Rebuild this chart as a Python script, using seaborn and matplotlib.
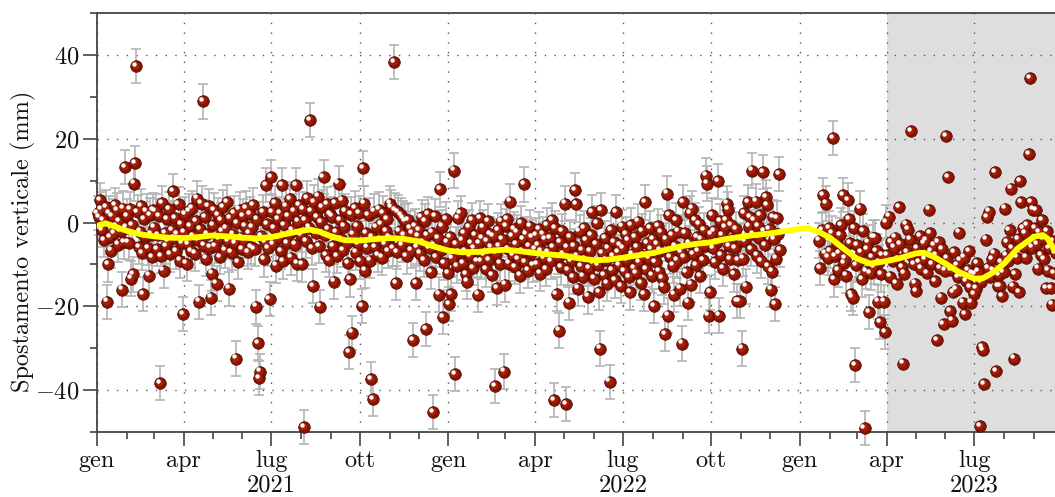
import numpy as np
import pandas as pd
import matplotlib
matplotlib.use("Agg")
import matplotlib.pyplot as plt
import matplotlib.dates as mdates
import matplotlib.transforms as mtransforms
from matplotlib.ticker import MultipleLocator, FuncFormatter
import seaborn as sns

# ---------------------------------------------------------------------------
# Spostamento verticale giornaliero (mm), un elenco per mese
# ---------------------------------------------------------------------------
gen_2021 = [2.3, 1.2, 5.4, 3.1, -1.8, 0.6, -4.2, 3.6, -18.9, -10.0, 2.2, -3.5, -6.7, 1.4, -2.6, 4.1,
            -0.8, 2.9, -5.3, 0.3, -2.1, -16.0, 3.3, -4.6, 13.2, -1.2]
feb_2021 = [1.5, -4.8, 3.2, -13.4, -0.6, -12.4, 9.3, 14.1, 37.3, 2.4, -5.9, -2.2, 4.0, -7.3, -17.0, 0.9,
            -3.4, 2.6, -6.1, -12.7, 1.8, -2.9, -8.2, 3.0]
mar_2021 = [-1.2, 2.8, -6.4, -3.1, 1.5, -38.3, -8.0, 4.6, -11.5, -2.5, -5.7, 0.8, -4.4, 3.2, -7.6, -1.9,
            7.4, -3.8, 1.1, -6.9, -2.7, 4.3, -9.1, -0.4, -4.9, -21.8]
apr_2021 = [-2.4, 1.9, -9.8, -5.1, 2.7, -0.9, -6.8, 3.5, -3.3, -7.4, 0.4, 5.7, -4.2, -18.9, -1.6, 4.5,
            28.9, -5.5, 1.2, -8.6, -2.8, 3.9, -6.0, -17.9, -12.2]
mag_2021 = [-0.7, 2.9, -5.6, -14.6, 1.8, -3.9, -8.3, 0.5, -2.2, 3.6, -6.7, -1.4, 4.8, -4.5, -15.8, 1.0,
            -7.2, -2.9, 2.3, -5.0, -32.5, -0.2, -9.4, 3.1, -3.6, -6.3]
giu_2021 = [1.6, -4.3, -0.8, 3.4, -7.1, -2.6, 2.0, -5.8, -1.1, 4.2, -6.4, -20.1, 0.7, -28.7, -37.1, -35.6,
            -3.2, 2.5, -8.8, -4.7, 8.9, -0.3, -6.2, -18.2, 10.8]
lug_2021 = [2.4, -5.2, -1.3, 4.7, -10.3, 0.9, -3.7, 2.1, -6.9, 8.9, -9.3, -0.6, 3.8, -4.9, 1.5, -2.8,
            5.6, -8.4, -1.9, 2.7, -5.3, 8.9, -9.8, 0.2, 4.1, -3.0]
ago_2021 = [-10.0, 3.2, -48.8, 0.6, -4.4, 5.9, -1.2, 24.4, 2.8, -6.1, -15.1, 4.9, -2.5, 1.3, 6.2, -5.6,
            -20.1, 0.1, 3.7, 10.8, -3.1, -7.8, 4.4, -1.7, -8.9, 2.0]
set_2021 = [1.4, -5.7, -14.1, 4.6, -2.3, -8.0, 9.3, 0.5, -3.9, 5.2, -6.6, -1.0, 2.8, -4.8, -9.6, -30.9,
            -13.6, 1.9, -26.3, -2.7, 3.4, -7.2, -0.8, -5.1, 2.2]
ott_2021 = [-9.3, -19.9, 12.9, 4.5, -11.5, -2.6, -6.0, 1.8, -9.1, -37.3, -3.4, -42.1, 2.6, -5.9, -1.1,
            -7.7, 3.1, -4.0, -0.3, -8.4, 2.2, -5.2, -2.0, 0.8, -6.8, -3.6]
nov_2021 = [4.5, 3.7, -6.2, 38.3, 2.9, -14.4, -7.0, 2.4, -2.1, 1.8, -5.4, 1.1, -3.0, 0.4, -8.1, 0.6,
            -4.4, -1.3, -6.7, -2.5, -28.0, -0.9, -14.4, -5.8, -3.2]
dic_2021 = [-1.8, -7.4, 1.2, -4.6, -9.0, 0.3, -25.4, -3.1, 2.0, -6.2, -11.8, -2.4, -45.2, -5.5, 1.6,
            -8.3, -3.7, -17.2, 7.9, -6.6, -1.0, -22.5, -9.6, 0.9, -4.8, -12.0]
gen_2022 = [-19.4, -3.5, -17.0, -8.6, 12.4, -36.1, -5.2, -10.4, 1.0, -7.1, 2.2, -4.3, -9.7, -2.5, -6.8,
            -12.3, -14.1, -1.1, -8.0, -4.9, 0.6, -10.9, -6.2, -3.0, -9.2, -17.2]
feb_2022 = [-5.0, 1.0, -9.3, -3.8, -1.2, -7.7, -11.2, -4.4, 0.4, -8.9, -2.8, -6.0, -12.6, -3.3, -39.0,
            -7.4, -15.6, -1.9, -5.6, -9.8, 0.2, -4.1, -35.6, -14.8]
mar_2022 = [-0.9, 0.8, -6.3, -9.8, 5.0, -3.2, -7.8, -1.5, -10.6, -5.1, -2.4, -8.7, -12.7, -0.2, -6.9,
            -4.0, 9.1, -9.4, -2.9, -11.5, -5.7, -1.0, -7.3, -3.6, -10.1, -6.4]
apr_2022 = [-3.1, -9.9, -5.4, -1.6, -12.2, -6.8, -2.9, -8.5, -4.0, -11.1, -0.7, -7.2, -3.8, -9.3, 0.5,
            -5.9, -42.3, -1.3, -17.0, -8.2, -25.8, -4.6, -10.7, -2.0, -7.6]
mag_2022 = [4.5, -43.3, -6.0, -11.4, -19.1, -3.4, -9.2, -13.0, -5.7, 7.7, 4.3, -8.1, -15.8, -2.2, -10.5,
            -6.6, -12.9, -1.4, -8.8, -4.2, -17.7, -11.0, -6.9, -3.0, 2.4, -9.6]
giu_2022 = [-13.4, -5.1, -0.2, -10.2, -16.7, -30.1, 2.9, -7.3, -12.5, -3.8, -9.0, -14.6, -6.2, -38.0,
            -1.9, -11.3, -8.0, -4.6, -13.8, 2.4, -7.0, -10.1, -5.4, -15.2, -1.0]
lug_2022 = [-6.1, -11.6, -2.8, -8.9, -4.3, -13.1, -16.7, -0.6, -7.5, -10.8, -3.5, -12.0, -5.8, 0.2, -9.4,
            -14.4, -2.1, -7.9, -17.0, 4.8, -11.2, -4.9, -8.6, -1.3, -6.4, -12.7]
ago_2022 = [-3.9, -19.9, -9.4, -5.3, -0.8, -11.7, -6.7, -2.4, -13.2, -15.3, -26.6, -4.1, 6.9, -22.2, 1.7,
            -8.2, -3.0, -10.3, -17.2, -5.6, 0.6, -9.1, -2.2, -15.8, -7.0, -28.9]
set_2022 = [4.8, -8.3, -2.6, -11.9, -19.1, -5.0, 2.2, -14.8, 3.3, -7.6, 0.5, -10.2, -3.4, -6.8, -0.4,
            -12.8, -4.1, -8.9, -1.8, -5.5, 11.2, 9.3, -22.2, -16.7, -2.9]
ott_2022 = [1.7, -6.2, -2.0, -9.4, -4.7, 9.8, -22.2, 0.3, -7.8, -3.1, -11.0, -1.2, 0.5, 4.5, 3.1, -5.6,
            -8.7, -0.7, -3.9, -12.4, -6.1, -1.6, -18.7, -9.0, -18.7, -4.3]
nov_2022 = [-30.1, -8.6, 2.2, -4.5, -15.3, 4.8, -1.0, 1.2, -6.3, 12.4, -2.7, 0.5, 5.0, -7.9, -0.9, -3.6,
            1.8, -9.2, 12.0, -2.1, -5.4, 6.0, 4.1, -10.5, -1.5]
dic_2022 = [-16.0, -11.7, 1.2, -4.0, -19.4, -8.6, 1.0, -2.8, 11.5, -6.5]
gen_2023 = [-4.3, -10.8, -1.9, 6.5, -7.4, 4.5, -8.4, -1.4]
feb_2023 = [-6.8, -2.5, 20.1, -13.6, -8.0, -4.9, -11.3, -7.4, -3.0, -0.7, 6.5, -9.6, -8.6, -12.7, 5.3,
            0.9, -5.0, -17.0, -17.9, -1.4, -34.0, -10.2]
mar_2023 = [-5.4, -9.1, 3.3, -7.2, -13.6, -2.0, -49.0, -11.7, -6.3, -4.8, -21.3, -12.0, -8.4, -3.6,
            -10.6, -3.6, -6.9, -18.9, -9.5, -23.7, -12.4, -7.8, -18.9, -26.1, 0.0]
apr_2023 = [-7.8, 1.4, -12.9, -4.6, -9.3, -6.0, -3.6, -14.6, -8.8, 3.6, -5.2, -10.7, -33.7, -12.2, -0.5,
            -7.0, -1.7, -4.1, 21.8, -8.1, -9.9, -14.6]
mag_2023 = [-16.3, -6.2, -9.4, -3.3, -11.0, -7.5, -5.0, -8.7, -4.2, -12.1, 3.1, -2.6, -6.8, -9.9, -5.4,
            -13.9, -7.9, -28.0, -4.7, -10.8, -17.9, -6.3, -24.2, -11.5]
giu_2023 = [20.6, -8.6, 10.8, -21.1, -11.4, -23.4, -16.7, -7.1, -16.0, -10.2, -13.0, -2.4, -9.1, -12.8,
            -19.1, -8.4, -21.8, -14.0, -11.3, -6.9, -15.5, -19.1, -12.2, -17.0]
lug_2023 = [-12.3, -15.8, -9.6, -11.7, -48.6, -14.2, -29.7, -30.4, -38.5, -4.1, 1.2, -10.9, 2.6, -13.1,
            -8.7, -11.5, -7.4, 12.0, -35.4, -15.1, -12.6, -15.1, -9.4, -17.5, -11.8]
ago_2023 = [3.3, -7.9, -4.6, -9.3, -1.8, 8.1, -6.2, -15.3, -32.5, -12.4, -8.4, -4.0, -16.7, 9.8, 4.8,
            -1.3, -5.9, -2.6, -8.4, -0.6, 16.3, 34.4, 4.8, -6.0, 3.1]
set_2023 = [-1.4, 3.0, -5.2, -11.0, -2.3, -7.7, 0.5, -3.9, -8.8, -15.6, -2.0, -11.5, -6.1, -15.6, -19.6,
            -4.4, -12.0, -7.3]

# periodo coperto da ciascun elenco (inizio incluso, fine esclusa)
periodi = [
    ("2021-01-01", "2021-02-01", gen_2021), ("2021-02-01", "2021-03-01", feb_2021),
    ("2021-03-01", "2021-04-01", mar_2021), ("2021-04-01", "2021-05-01", apr_2021),
    ("2021-05-01", "2021-06-01", mag_2021), ("2021-06-01", "2021-07-01", giu_2021),
    ("2021-07-01", "2021-08-01", lug_2021), ("2021-08-01", "2021-09-01", ago_2021),
    ("2021-09-01", "2021-10-01", set_2021), ("2021-10-01", "2021-11-01", ott_2021),
    ("2021-11-01", "2021-12-01", nov_2021), ("2021-12-01", "2022-01-01", dic_2021),
    ("2022-01-01", "2022-02-01", gen_2022), ("2022-02-01", "2022-03-01", feb_2022),
    ("2022-03-01", "2022-04-01", mar_2022), ("2022-04-01", "2022-05-01", apr_2022),
    ("2022-05-01", "2022-06-01", mag_2022), ("2022-06-01", "2022-07-01", giu_2022),
    ("2022-07-01", "2022-08-01", lug_2022), ("2022-08-01", "2022-09-01", ago_2022),
    ("2022-09-01", "2022-10-01", set_2022), ("2022-10-01", "2022-11-01", ott_2022),
    ("2022-11-01", "2022-12-01", nov_2022), ("2022-12-01", "2022-12-12", dic_2022),
    ("2023-01-20", "2023-02-01", gen_2023), ("2023-02-01", "2023-03-01", feb_2023),
    ("2023-03-01", "2023-04-01", mar_2023), ("2023-04-01", "2023-05-01", apr_2023),
    ("2023-05-01", "2023-06-01", mag_2023), ("2023-06-01", "2023-07-01", giu_2023),
    ("2023-07-01", "2023-08-01", lug_2023), ("2023-08-01", "2023-09-01", ago_2023),
    ("2023-09-01", "2023-09-24", set_2023),
]

# incertezza (mm) delle misure validate; dal 1 aprile 2023 dati preliminari senza barre
errore_mm = 4.1
inizio_preliminari = "2023-04-01"

# andamento medio (curva gialla)
trend_date = ["2021-01-01", "2021-01-10", "2021-01-20", "2021-02-01", "2021-02-15", "2021-03-01",
              "2021-03-15", "2021-04-01", "2021-04-15", "2021-05-01", "2021-05-15", "2021-06-01",
              "2021-06-15", "2021-07-01", "2021-07-15", "2021-08-01", "2021-08-10", "2021-08-20",
              "2021-09-01", "2021-09-15", "2021-10-01", "2021-10-15", "2021-11-01", "2021-11-15",
              "2021-12-01", "2021-12-15", "2022-01-01", "2022-01-15", "2022-02-01", "2022-02-15",
              "2022-03-01", "2022-03-15", "2022-04-01", "2022-04-15", "2022-05-01", "2022-05-15",
              "2022-06-01", "2022-06-15", "2022-07-01", "2022-07-15", "2022-08-01", "2022-08-15",
              "2022-09-01", "2022-09-15", "2022-10-01", "2022-10-15", "2022-11-01", "2022-11-15",
              "2022-12-01", "2022-12-15", "2023-01-01", "2023-01-10", "2023-01-20", "2023-02-01",
              "2023-02-15", "2023-03-01", "2023-03-15", "2023-04-01", "2023-04-15", "2023-05-01",
              "2023-05-10", "2023-05-20", "2023-06-01", "2023-06-15", "2023-07-01", "2023-07-10",
              "2023-07-20", "2023-08-01", "2023-08-15", "2023-09-01", "2023-09-10", "2023-09-15",
              "2023-09-22"]
trend_mm = [-0.8, -0.2, -1.0, -2.0, -2.8, -3.3, -3.6, -3.7, -3.5, -3.1, -3.3, -3.6, -3.8, -3.5, -2.8,
            -2.0, -1.7, -2.2, -3.3, -4.2, -4.3, -4.0, -3.7, -3.9, -4.5, -5.6, -6.7, -7.1, -7.0, -6.7,
            -6.5, -6.8, -7.3, -7.6, -7.9, -8.5, -9.0, -8.9, -8.4, -7.9, -7.3, -6.5, -5.6, -5.1, -4.7,
            -4.0, -3.4, -3.0, -2.6, -2.1, -1.5, -1.4, -2.2, -3.6, -6.2, -8.6, -9.8, -9.2, -8.5, -7.4,
            -7.2, -8.2, -9.8, -11.8, -13.4, -13.3, -12.0, -9.8, -6.2, -3.4, -3.0, -3.8, -6.5]

mesi_it = {1: "gen", 4: "apr", 7: "lug", 10: "ott"}
anni = [2021, 2022, 2023]

# ---------------------------------------------------------------------------
# tabella delle misure
# ---------------------------------------------------------------------------
righe = []
for inizio, fine, valori in periodi:
    t0, t1 = pd.Timestamp(inizio), pd.Timestamp(fine)
    n = len(valori)
    for i, v in enumerate(valori):
        righe.append((t0 + (t1 - t0) * (i + 0.5) / n, v))
misure = pd.DataFrame(righe, columns=["data", "mm"])
validate = misure[misure["data"] < pd.Timestamp(inizio_preliminari)]
andamento = pd.DataFrame({"data": pd.to_datetime(trend_date), "mm": trend_mm})

# ---------------------------------------------------------------------------
# stile
# ---------------------------------------------------------------------------
sns.set_theme(style="ticks")
plt.rcParams.update({
    "font.family": "serif",
    "font.serif": ["cmr10"],
    "mathtext.fontset": "cm",
    "axes.formatter.use_mathtext": True,
    "axes.unicode_minus": False,
})
FS = 17.5

W, H = 1055, 497
fig = plt.figure(figsize=(W / 100, H / 100), dpi=100)
ax = fig.add_axes([97 / W, 65 / H, 958 / W, 419 / H])

x_min = pd.Timestamp("2021-01-01")
x_max = x_min + pd.Timedelta(days=994.8)
ax.set_xlim(x_min, x_max)
ax.set_ylim(-50, 50)

# periodo dei dati preliminari
ax.axvspan(pd.Timestamp(inizio_preliminari), x_max + pd.Timedelta(days=30),
           color="#dedede", lw=0, zorder=0)

# barre di errore
ax.errorbar(validate["data"], validate["mm"], yerr=errore_mm, fmt="none",
            ecolor="#b4b4b4", elinewidth=1.2, capsize=3.6, capthick=1.2,
            zorder=2, clip_on=False)

# sfere: corpo, riflesso tenue e punto di luce
sns.scatterplot(data=misure, x="data", y="mm", ax=ax, color="#8a1200", s=70,
                edgecolor="#4a0700", linewidth=0.5, zorder=3, legend=False,
                clip_on=False)
tr_mid = mtransforms.offset_copy(ax.transData, fig=fig, x=-0.7, y=0.7, units="points")
ax.scatter(misure["data"], misure["mm"], s=32, color="#a3200a", linewidths=0,
           transform=tr_mid, zorder=3.1, clip_on=False)
tr_hi = mtransforms.offset_copy(ax.transData, fig=fig, x=-1.5, y=1.6, units="points")
ax.scatter(misure["data"], misure["mm"], s=10, color="white", linewidths=0,
           transform=tr_hi, zorder=3.2, clip_on=False)

# andamento medio
sns.lineplot(data=andamento, x="data", y="mm", ax=ax, color="#ffff00", lw=4.2,
             zorder=4, legend=False)

# assi
ax.xaxis.set_major_locator(mdates.MonthLocator(bymonth=[1, 4, 7, 10]))
ax.xaxis.set_minor_locator(mdates.MonthLocator())
ax.xaxis.set_major_formatter(FuncFormatter(lambda v, p: mesi_it[mdates.num2date(v).month]))
ax.yaxis.set_major_locator(MultipleLocator(20))
ax.yaxis.set_minor_locator(MultipleLocator(10))
ax.yaxis.set_major_formatter(FuncFormatter(lambda v, p: f"${v:.0f}$"))

ax.grid(True, which="major", color="#555555", linestyle=(0, (1, 6)), linewidth=1.0)
ax.set_axisbelow(True)

for lato in ["left", "bottom", "top"]:
    ax.spines[lato].set_color("#444444")
    ax.spines[lato].set_linewidth(1.3)
ax.spines["right"].set_visible(False)

ax.tick_params(which="major", direction="out", length=10, width=1.2, color="#444444",
               labelsize=FS, pad=3, labelcolor="#111111")
ax.tick_params(which="minor", direction="out", length=5, width=1.2, color="#444444")

ax.set_xlabel("")
ax.set_ylabel("Spostamento verticale (mm)", fontsize=FS, color="#111111")
ax.yaxis.set_label_coords(-0.064, 0.456)

# anni sotto i mesi di luglio
tr_anni = mtransforms.blended_transform_factory(ax.transData, ax.transAxes)
for anno in anni:
    ax.text(mdates.date2num(pd.Timestamp(f"{anno}-07-01")), -0.128, str(anno),
            transform=tr_anni, ha="center", va="center", fontsize=FS, color="#111111")

fig.savefig("out.png", dpi=100)
